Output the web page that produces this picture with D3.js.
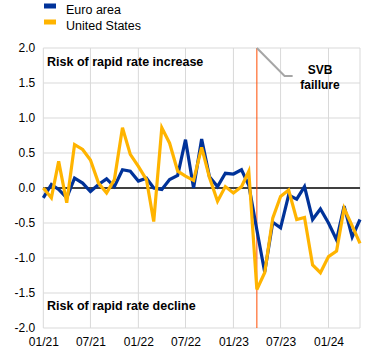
<!DOCTYPE html>
<html><head><meta charset="utf-8">
<script src="https://cdn.jsdelivr.net/npm/d3@7"></script>
<style>
body{margin:0;background:#fff}
text{font-family:"Liberation Sans",Arial,sans-serif;fill:#000}
</style>
</head><body>
<svg id="chart" width="372" height="355"></svg>
<script>
const months = ["2021-01","2021-02","2021-03","2021-04","2021-05","2021-06","2021-07","2021-08","2021-09","2021-10","2021-11","2021-12",
"2022-01","2022-02","2022-03","2022-04","2022-05","2022-06","2022-07","2022-08","2022-09","2022-10","2022-11","2022-12",
"2023-01","2023-02","2023-03","2023-04","2023-05","2023-06","2023-07","2023-08","2023-09","2023-10","2023-11","2023-12",
"2024-01","2024-02","2024-03","2024-04","2024-05"];
const euroArea = [-0.14,0.05,-0.02,-0.14,0.14,0.07,-0.05,0.05,0.13,0.02,0.26,0.24,
0.10,0.14,0.00,-0.02,0.12,0.18,0.69,0.00,0.70,0.16,0.02,0.21,
0.20,0.26,0.04,-0.60,-1.20,-0.49,-0.57,-0.10,-0.16,0.02,-0.45,-0.30,
-0.50,-0.74,-0.26,-0.70,-0.45];
const unitedStates = [0.00,-0.14,0.38,-0.21,0.62,0.55,0.40,0.07,-0.07,0.12,0.86,0.48,
0.31,0.12,-0.48,0.86,0.64,0.24,0.17,0.11,0.58,0.15,-0.19,0.02,
-0.07,0.02,0.24,-1.45,-1.21,-0.43,-0.12,-0.03,-0.45,-0.42,-1.10,-1.21,
-0.98,-0.90,-0.29,-0.54,-0.79];
const seriesNames = ["Euro area","United States"];
const seriesColors = ["#003299","#FFB400"];
const yTicks = [-2,-1.5,-1,-0.5,0,0.5,1,1.5,2];
const xTickMonths = ["2021-01","2021-07","2022-01","2022-07","2023-01","2023-07","2024-01"];
const xTickLabels = ["01/21","07/21","01/22","07/22","01/23","07/23","01/24"];
const svbMonth = "2023-04";
const svbLabel = ["SVB","faillure"];
const zoneLabels = ["Risk of rapid rate increase","Risk of rapid rate decline"];

const parse = d3.timeParse("%Y-%m");
const dates = months.map(parse);
const svg = d3.select("#chart");
const L = 43.3, R = 360, T = 48, B = 328;

const x = d3.scaleTime().domain([dates[0], dates[dates.length-1]]).range([L, R]);
const y = d3.scaleLinear().domain([-2, 2]).range([B, T]);

// gridlines
const grid = svg.append("g").attr("stroke","#d9d9d9").attr("stroke-width",1);
grid.selectAll(".hy").data(yTicks).join("line")
  .attr("x1",L).attr("x2",R).attr("y1",d=>y(d)).attr("y2",d=>y(d));
grid.selectAll(".vx").data(xTickMonths.map(parse)).join("line")
  .attr("x1",d=>x(d)).attr("x2",d=>x(d)).attr("y1",T).attr("y2",B);
grid.append("line").attr("x1",R).attr("x2",R).attr("y1",T).attr("y2",B);

// y axis labels
const yAxis = d3.axisLeft(y).tickValues(yTicks).tickFormat(d=>d.toFixed(1)).tickSize(0).tickPadding(8);
const gy = svg.append("g").attr("transform",`translate(${L},0)`).call(yAxis);
gy.select(".domain").remove();
gy.selectAll("text").attr("font-size",12).attr("font-family","Liberation Sans, Arial, sans-serif").attr("fill","#000");

// x axis labels
const xAxis = d3.axisBottom(x).tickValues(xTickMonths.map(parse)).tickFormat((d,i)=>xTickLabels[i]).tickSize(0).tickPadding(9);
const gx = svg.append("g").attr("transform",`translate(0,${B})`).call(xAxis);
gx.select(".domain").remove();
gx.selectAll("text").attr("font-size",12).attr("font-family","Liberation Sans, Arial, sans-serif").attr("fill","#000");

// zero line
svg.append("line").attr("x1",L).attr("x2",R).attr("y1",y(0)).attr("y2",y(0))
  .attr("stroke","#404040").attr("stroke-width",2);

// SVB line
const sx = x(parse(svbMonth));
svg.append("line").attr("x1",sx).attr("x2",sx).attr("y1",T).attr("y2",B)
  .attr("stroke","#FF4B00").attr("stroke-width",1);

// series lines
const line = d3.line().x((d,i)=>x(dates[i])).y(d=>y(d));
[euroArea, unitedStates].forEach((s,k)=>{
  svg.append("path").datum(s).attr("d",line).attr("fill","none")
    .attr("stroke",seriesColors[k]).attr("stroke-width",3.2);
});

// annotation
svg.append("polyline")
  .attr("points",`${sx},${y(2)} ${x(parse("2023-07"))+4},${y(1.6)} ${x(parse("2023-08"))+4},${y(1.6)}`)
  .attr("fill","none").attr("stroke","#a6a6a6").attr("stroke-width",2);
svg.append("text").attr("x",320).attr("y",74).attr("text-anchor","middle")
  .attr("font-size",12).attr("font-weight","bold").text(svbLabel[0]);
svg.append("text").attr("x",320).attr("y",88.5).attr("text-anchor","middle")
  .attr("font-size",12).attr("font-weight","bold").text(svbLabel[1]);

svg.append("text").attr("x",47).attr("y",y(1.74)).attr("font-size",12.5).attr("font-weight","bold").text(zoneLabels[0]);
svg.append("text").attr("x",47).attr("y",y(-1.73)+1).attr("font-size",12.5).attr("font-weight","bold").text(zoneLabels[1]);

// legend
const lg = svg.append("g");
seriesNames.forEach((n,k)=>{
  lg.append("rect").attr("x",44).attr("y",3.5+k*16).attr("width",12).attr("height",5).attr("fill",seriesColors[k]);
  lg.append("text").attr("x",66).attr("y",14+k*16).attr("font-size",12.5).text(n);
});
</script>
</body></html>
